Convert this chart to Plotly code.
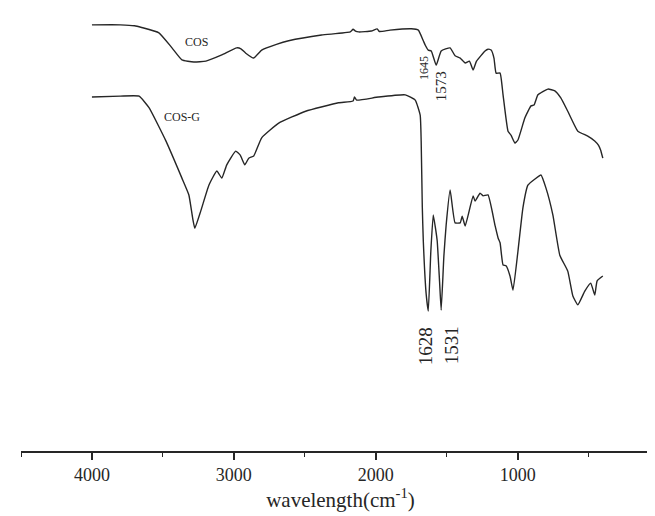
import plotly.graph_objects as go

# COS spectrum (wavenumber cm-1, transmittance a.u.)
cos_wn = [4000, 3800, 3700, 3650, 3528, 3436, 3366, 3282, 3197, 3085, 2980, 2950, 2916, 2860,
          2804, 2700, 2614, 2382, 2180, 2160, 2143, 2120, 2031, 1990, 1975, 1900, 1750, 1700,
          1665, 1651, 1630, 1609, 1574, 1539, 1476, 1441, 1405, 1370, 1340, 1314, 1290, 1230,
          1209, 1187, 1167, 1152, 1124, 1103, 1068, 1047, 1019, 998, 949, 906, 885, 857, 787,
          738, 696, 647, 576, 506, 457, 430, 415, 400]
cos_t = [96.2, 96.2, 96.0, 95.6, 94.4, 91.0, 88.3, 87.8, 88.0, 89.4, 91.0, 90.8, 89.8, 88.7,
         90.5, 91.8, 92.6, 93.9, 94.6, 95.2, 94.8, 94.6, 94.8, 95.3, 94.7, 95.0, 95.3, 95.0,
         92.6, 91.6, 90.5, 90.3, 87.1, 90.3, 91.0, 89.2, 88.7, 87.6, 88.0, 86.0, 88.0, 90.3,
         90.7, 90.5, 88.7, 85.3, 85.3, 80.4, 72.2, 71.3, 69.5, 70.2, 75.2, 77.9, 78.1, 80.4,
         81.7, 81.3, 79.7, 76.7, 72.2, 71.1, 70.0, 69.0, 67.9, 66.1]

# COS-G spectrum
cosg_wn = [4000, 3800, 3668, 3598, 3479, 3366, 3317, 3290, 3275, 3233, 3176, 3120, 3085, 3050,
           2987, 2955, 2923, 2895, 2860, 2804, 2684, 2494, 2263, 2160, 2150, 2135, 1982, 1792,
           1722, 1687, 1680, 1672, 1665, 1645, 1630, 1612, 1595, 1580, 1567, 1550, 1539, 1520,
           1504, 1476, 1441, 1405, 1391, 1370, 1314, 1300, 1265, 1244, 1209, 1160, 1138, 1124,
           1103, 1082, 1054, 1033, 998, 963, 928, 878, 836, 801, 752, 703, 647, 611, 576, 527,
           485, 457, 440, 400]
cosg_t = [79.9, 80.1, 80.1, 77.5, 70.0, 61.6, 57.8, 52.5, 50.3, 54.2, 60.0, 63.2, 61.6, 64.6,
          67.7, 66.8, 64.6, 66.1, 66.6, 70.7, 74.0, 76.7, 78.6, 79.0, 79.9, 79.2, 79.9, 80.4,
          79.2, 75.8, 70.0, 55.0, 47.4, 35.5, 31.6, 45.0, 53.3, 50.5, 47.4, 38.0, 31.8, 44.0,
          51.0, 58.9, 51.5, 51.5, 53.0, 50.8, 57.6, 56.4, 58.2, 57.6, 57.8, 51.0, 48.1, 47.0,
          42.0, 41.8, 39.5, 36.3, 45.1, 54.9, 60.0, 61.4, 62.3, 59.4, 53.3, 44.2, 40.6, 35.0,
          33.0, 36.1, 37.9, 35.2, 38.4, 39.5]

# labels
series_labels = ["COS", "COS-G"]
series_label_x = [3261, 3366]
series_label_y = [92.3, 75.4]

peak_labels = ["1645", "1573", "1628", "1531"]
peak_x = [1658, 1539, 1651, 1469]
peak_y = [86.5, 82.4, 23.7, 23.9]
peak_sizes = [12, 15, 19, 19]

tick_vals = [4000, 3000, 2000, 1000, 0]
tick_text = ["4000", "3000", "2000", "1000", "0"]

line_color = "#262626"
font_family = "Liberation Serif"

fig = go.Figure()
fig.add_trace(go.Scatter(x=cos_wn, y=cos_t, mode="lines",
                         line=dict(color=line_color, width=1.4, shape="spline", smoothing=0.4),
                         showlegend=False))
fig.add_trace(go.Scatter(x=cosg_wn, y=cosg_t, mode="lines",
                         line=dict(color=line_color, width=1.4, shape="spline", smoothing=0.4),
                         showlegend=False))

for txt, x, y in zip(series_labels, series_label_x, series_label_y):
    fig.add_annotation(x=x, y=y, text=txt, showarrow=False,
                       font=dict(family=font_family, size=12, color=line_color))

for txt, x, y, s in zip(peak_labels, peak_x, peak_y, peak_sizes):
    fig.add_annotation(x=x, y=y, text=txt, showarrow=False, textangle=-90,
                       font=dict(family=font_family, size=s, color=line_color))

fig.update_layout(
    width=655, height=516,
    margin=dict(l=13, r=3, t=0, b=73),
    paper_bgcolor="white", plot_bgcolor="white",
    font=dict(family=font_family, color=line_color),
)
fig.update_xaxes(
    range=[4500, -3], showgrid=False, zeroline=False,
    showline=True, linecolor=line_color, linewidth=1.6,
    ticks="outside", ticklen=7, tickwidth=1.6, tickcolor=line_color,
    tickvals=tick_vals, ticktext=tick_text, ticklabeloverflow="allow",
    tickfont=dict(family=font_family, size=18, color=line_color),
    minor=dict(dtick=500, tick0=0, ticks="outside", ticklen=4, tickwidth=1.4,
               tickcolor=line_color, showgrid=False),
    title=dict(text="wavelength(cm<sup>-1</sup>)", standoff=6,
               font=dict(family=font_family, size=21, color=line_color)),
    automargin=False,
)
fig.update_yaxes(range=[0, 100], visible=False)

fig.write_html("out.html")
